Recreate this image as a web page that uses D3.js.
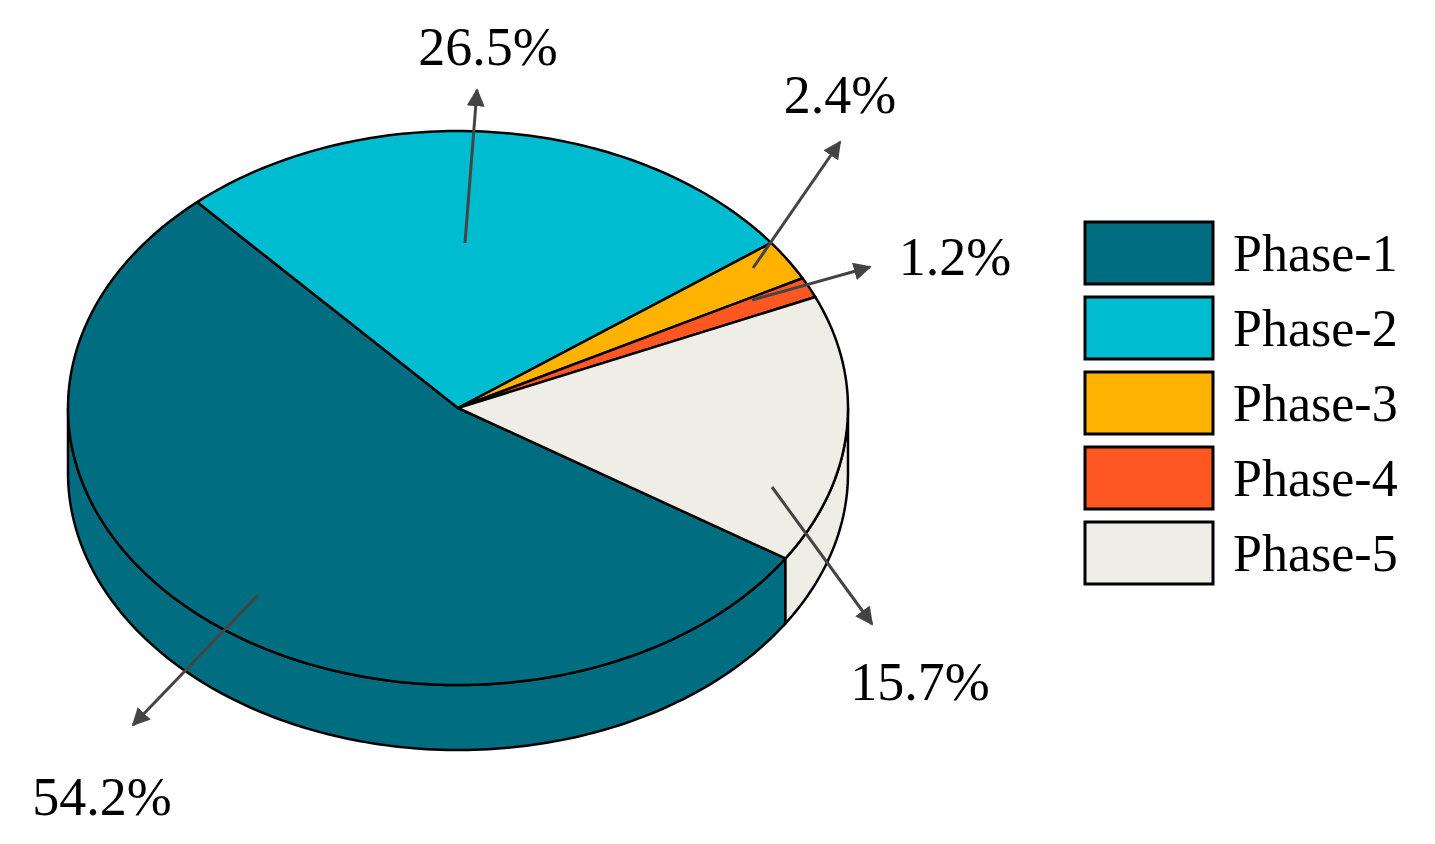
<!doctype html>
<html>
<head>
<meta charset="utf-8">
<style>
  body { margin: 0; background: #fff; }
  text { font-family: "Liberation Serif", "Times New Roman", serif; fill: #000; }
</style>
</head>
<body>
<script src="https://cdn.jsdelivr.net/npm/d3@7"></script>
<script>
  var phases = ['Phase-1', 'Phase-2', 'Phase-3', 'Phase-4', 'Phase-5'];
  var shares = [54.2, 26.5, 2.4, 1.2, 15.7];
  var colors = ['#006e80', '#00bcd0', '#ffb300', '#ff5722', '#eeeee6'];
  // label text anchor points and arrows (start -> end), one per slice
  var labelPos = [[102, 815], [488, 65], [840, 113], [955, 275], [920, 700]];
  var arrows = [[[258, 595], [133, 725]], [[465, 243], [477, 90]], [[753, 268], [840, 142]],
                [[752, 300], [870, 267]], [[772, 487], [872, 624]]];

  var width = 1435, height = 844;
  var cx = 458, cy = 408, rx = 390, ry = 277, depth = 65;
  var startDeg = 32.9;

  var svg = d3.select('body').append('svg')
      .attr('width', width).attr('height', height);

  var defs = svg.append('defs');
  defs.append('marker').attr('id', 'arr')
      .attr('viewBox', '0 0 10 10').attr('refX', 9).attr('refY', 5)
      .attr('markerWidth', 6).attr('markerHeight', 6).attr('orient', 'auto')
    .append('path').attr('d', 'M0,0L10,5L0,10z').attr('fill', '#444');

  var angle = d3.scaleLinear().domain([0, 100]).range([startDeg, startDeg + 360]);
  var acc = 0;
  var slices = shares.map(function (v, i) {
    var s = { i: i, a0: angle(acc), a1: angle(acc + v) };
    acc += v;
    return s;
  });

  function pt(deg, dz) {
    var t = deg * Math.PI / 180;
    return [cx + rx * Math.cos(t), cy + ry * Math.sin(t) + (dz || 0)];
  }
  function arcPts(a0, a1, dz) {
    var n = Math.max(2, Math.ceil(Math.abs(a1 - a0))), out = [];
    for (var k = 0; k <= n; k++) out.push(pt(a0 + (a1 - a0) * k / n, dz));
    return out;
  }
  var line = d3.line();

  // side walls: visible front half (0..180 deg, also 360..540)
  slices.forEach(function (s) {
    [[0, 180], [360, 540]].forEach(function (r) {
      var a0 = Math.max(s.a0, r[0]), a1 = Math.min(s.a1, r[1]);
      if (a1 <= a0) return;
      var p = arcPts(a0, a1, 0).concat(arcPts(a1, a0, depth));
      svg.append('path').attr('d', line(p) + 'Z')
          .attr('fill', colors[s.i]).attr('stroke', '#000').attr('stroke-width', 2.5);
    });
  });

  // top faces
  slices.forEach(function (s) {
    var p = [[cx, cy]].concat(arcPts(s.a0, s.a1, 0));
    svg.append('path').attr('d', line(p) + 'Z')
        .attr('fill', colors[s.i]).attr('stroke', '#000').attr('stroke-width', 2.5)
        .attr('stroke-linejoin', 'round');
  });

  // arrows and labels
  slices.forEach(function (s) {
    var a = arrows[s.i];
    svg.append('line')
        .attr('x1', a[0][0]).attr('y1', a[0][1]).attr('x2', a[1][0]).attr('y2', a[1][1])
        .attr('stroke', '#444').attr('stroke-width', 3).attr('marker-end', 'url(#arr)');
    svg.append('text').attr('x', labelPos[s.i][0]).attr('y', labelPos[s.i][1])
        .attr('text-anchor', 'middle').attr('font-size', 54)
        .text(shares[s.i].toFixed(1) + '%');
  });

  // legend
  var legend = svg.append('g').attr('transform', 'translate(1085,222)');
  phases.forEach(function (p, i) {
    var g = legend.append('g').attr('transform', 'translate(0,' + i * 75 + ')');
    g.append('rect').attr('width', 128).attr('height', 62)
        .attr('fill', colors[i]).attr('stroke', '#000').attr('stroke-width', 3);
    g.append('text').attr('x', 148).attr('y', 49).attr('font-size', 52).text(p);
  });
</script>
</body>
</html>
